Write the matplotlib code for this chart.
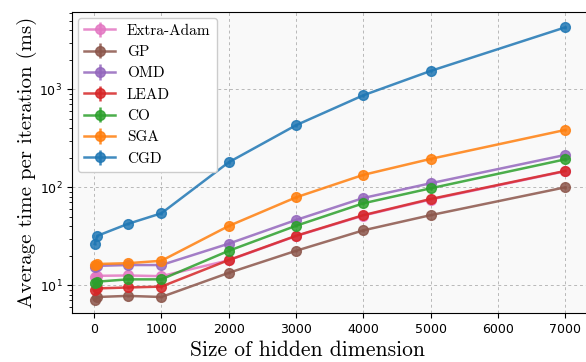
import matplotlib
matplotlib.use('Agg')
import matplotlib.pyplot as plt
import numpy as np

hidden = [10, 50, 500, 1000, 2000, 3000, 4000, 5000, 7000]

methods = ['Extra-Adam', 'GP', 'OMD', 'LEAD', 'CO', 'SGA', 'CGD']
colors = ['#e377c2', '#8c564b', '#9467bd', '#d62728', '#2ca02c', '#ff7f0e', '#1f77b4']

times = {
    'Extra-Adam': [12.2, 12.5, 12.6, 12.4, 18.0, 31.8, 51.5, 75.0, 146.0],
    'GP':         [7.1, 7.6, 7.8, 7.6, 13.4, 22.5, 36.4, 52.0, 100.0],
    'OMD':        [15.3, 15.8, 16.1, 16.1, 26.6, 46.4, 77.8, 110.0, 214.0],
    'LEAD':       [9.0, 9.3, 9.5, 9.7, 18.1, 32.0, 52.0, 76.0, 147.0],
    'CO':         [10.5, 10.9, 11.5, 11.5, 22.5, 40.5, 68.7, 97.7, 193.0],
    'SGA':        [16.2, 16.5, 16.8, 17.8, 40.3, 79.0, 134.0, 195.0, 385.0],
    'CGD':        [26.4, 32.0, 42.3, 54.3, 180.0, 430.0, 869.0, 1540.0, 4290.0],
}
# small spread used for the error bars
spread = 0.03

fig = plt.figure(figsize=(5.86, 3.62), dpi=100)
ax = fig.add_axes([0.1229, 0.1345, 0.8810, 0.8332])
ax.set_facecolor('#f9f9f9')

for m, c in zip(methods, colors):
    y = np.array(times[m])
    ax.errorbar(hidden, y, yerr=y * spread, color=c, marker='o', markersize=7,
                linewidth=1.8, elinewidth=1.8, alpha=0.85, label=m)

ax.set_yscale('log')
ax.set_ylim(5.18, 6190)
ax.set_xlim(-327, 7340)
ax.set_xticks(range(0, 8000, 1000))
ax.tick_params(labelsize=9)
ax.grid(True, which='major', linestyle=(0, (3, 3)), color='#b8b8b8', linewidth=0.7)
ax.set_axisbelow(True)

ax.set_xlabel('Size of hidden dimension', fontfamily='cmr10', fontsize=15.5)
ax.xaxis.set_label_coords(0.457, -0.09)
ax.set_ylabel('Average time per iteration (ms)', fontfamily='cmr10', fontsize=15, labelpad=2)

leg = ax.legend(loc='upper left', prop={'family': 'cmr10', 'size': 11},
                framealpha=1.0, edgecolor='#cccccc', labelspacing=0.5,
                borderaxespad=0.4)

fig.savefig('out.png', dpi=100)
